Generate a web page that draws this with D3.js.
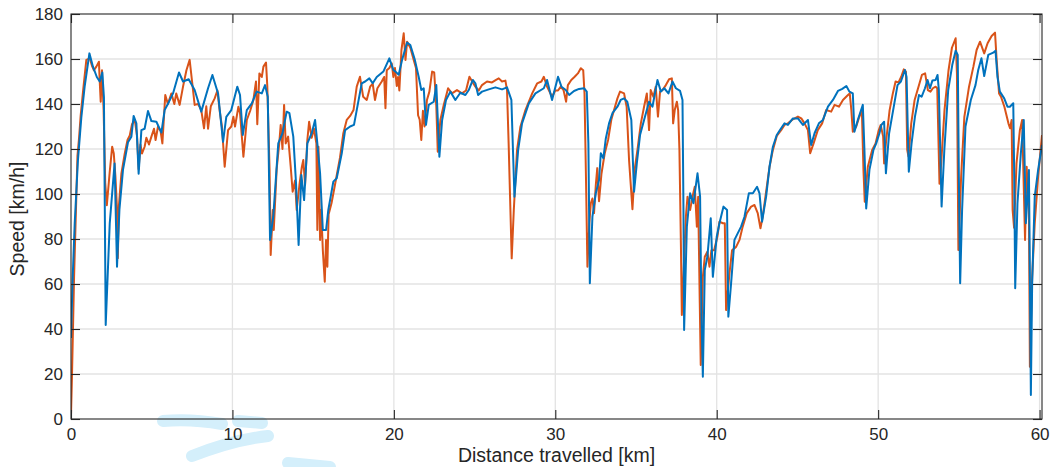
<!DOCTYPE html>
<html>
<head>
<meta charset="utf-8">
<script src="https://cdn.jsdelivr.net/npm/d3@7"></script>
<style>
  body { margin: 0; background: #ffffff; }
  svg { display: block; }
  text { font-family: "Liberation Sans", Arial, Helvetica, sans-serif; fill: #262626; }
</style>
</head>
<body>
<svg id="chart" width="1053" height="467"></svg>
<script>
// Axis ticks
const xTicks = [0, 10, 20, 30, 40, 50, 60];
const yTicks = [0, 20, 40, 60, 80, 100, 120, 140, 160, 180];

// Orange trace: distance [km] and speed [km/h]
const orangeKm = [0, 0.06, 0.19, 0.33, 0.4, 0.5, 0.6, 0.75, 0.95, 1.16, 1.3, 1.42, 1.57, 1.73, 1.78, 1.84, 1.92, 2.02, 2.12, 2.22, 2.4, 2.55, 2.65, 2.75, 2.84, 2.9, 2.97, 3.12, 3.33, 3.5, 3.64, 3.78, 3.95, 4.09, 4.19, 4.3, 4.4, 4.56, 4.67, 4.83, 4.98, 5.14, 5.24, 5.39, 5.55, 5.66, 5.84, 6.0, 6.22, 6.4, 6.52, 6.73, 6.94, 7.15, 7.35, 7.5, 7.66, 7.87, 8.07, 8.24, 8.38, 8.49, 8.66, 8.9, 9.07, 9.21, 9.35, 9.52, 9.73, 9.93, 10.06, 10.16, 10.37, 10.47, 10.68, 10.89, 11.1, 11.3, 11.46, 11.54, 11.67, 11.82, 11.92, 12.08, 12.16, 12.3, 12.37, 12.5, 12.56, 12.74, 12.9, 12.99, 13.1, 13.2, 13.3, 13.45, 13.61, 13.73, 13.88, 13.98, 14.15, 14.3, 14.39, 14.5, 14.64, 14.75, 14.91, 15.05, 15.2, 15.26, 15.33, 15.43, 15.5, 15.6, 15.72, 15.8, 15.88, 15.96, 16.14, 16.35, 16.66, 16.87, 17.08, 17.29, 17.5, 17.7, 17.9, 18.1, 18.32, 18.53, 18.69, 18.83, 18.98, 19.25, 19.4, 19.48, 19.56, 19.72, 19.87, 19.97, 20.07, 20.18, 20.26, 20.34, 20.47, 20.61, 20.72, 20.82, 21.02, 21.23, 21.37, 21.5, 21.6, 21.7, 21.8, 21.9, 22.05, 22.2, 22.37, 22.5, 22.63, 22.72, 22.88, 23.09, 23.36, 23.6, 23.91, 24.22, 24.47, 24.68, 24.85, 25.05, 25.26, 25.46, 25.77, 26.08, 26.33, 26.5, 26.7, 26.91, 27.01, 27.11, 27.22, 27.3, 27.43, 27.63, 27.84, 28.15, 28.57, 28.88, 29.14, 29.29, 29.49, 29.8, 30.0, 30.17, 30.34, 30.51, 30.67, 30.78, 30.99, 31.2, 31.4, 31.58, 31.73, 31.81, 31.9, 31.99, 32.11, 32.2, 32.3, 32.4, 32.51, 32.6, 32.71, 32.86, 33.06, 33.27, 33.47, 33.64, 33.85, 34.01, 34.26, 34.42, 34.57, 34.67, 34.78, 34.92, 35.09, 35.3, 35.5, 35.67, 35.81, 35.91, 36.08, 36.22, 36.36, 36.49, 36.64, 36.85, 37.05, 37.22, 37.3, 37.4, 37.53, 37.61, 37.69, 37.78, 37.84, 37.98, 38.09, 38.19, 38.35, 38.5, 38.64, 38.77, 38.85, 38.95, 39.01, 39.14, 39.26, 39.42, 39.55, 39.67, 39.84, 40.04, 40.17, 40.38, 40.5, 40.58, 40.79, 40.95, 41.2, 41.41, 41.61, 41.86, 42.13, 42.34, 42.54, 42.71, 42.85, 43.06, 43.27, 43.48, 43.72, 43.99, 44.2, 44.41, 44.72, 45.03, 45.24, 45.44, 45.65, 45.79, 46.0, 46.26, 46.53, 46.78, 47.09, 47.3, 47.57, 47.82, 48.13, 48.24, 48.34, 48.43, 48.64, 48.8, 48.99, 49.09, 49.17, 49.36, 49.63, 49.84, 50.04, 50.16, 50.31, 50.37, 50.5, 50.71, 50.91, 51.08, 51.26, 51.43, 51.59, 51.72, 51.8, 51.88, 52.05, 52.26, 52.5, 52.71, 52.91, 53.08, 53.24, 53.39, 53.56, 53.66, 53.8, 53.9, 54.11, 54.36, 54.57, 54.8, 54.88, 54.97, 55.14, 55.34, 55.63, 55.9, 56.1, 56.31, 56.57, 56.78, 57.03, 57.24, 57.34, 57.49, 57.61, 57.82, 58.07, 58.17, 58.27, 58.33, 58.42, 58.57, 58.78, 58.92, 59.1, 59.2, 59.34, 59.4, 59.54, 59.7, 59.91, 60.15];
const orangeSpeed = [1.8, 18.8, 63, 98.8, 117, 125, 135, 146, 159.6, 160.3, 157, 155, 156.6, 158.8, 150, 141, 155, 137.3, 105, 95, 110, 121, 118, 108, 95, 71.5, 95, 109, 118, 124, 126, 131, 133, 126, 111, 122, 118, 121, 125, 122, 125.5, 129, 124, 130, 128, 122.5, 144, 140, 144.7, 140, 144.7, 139.6, 147.7, 155, 159.6, 150, 139.6, 140, 137.3, 129.2, 139, 129, 139, 142.5, 146, 137, 130, 112.1, 128.4, 130, 134.3, 130, 138.8, 136, 116.6, 132.9, 137, 141.8, 150, 131, 153.6, 152, 156.6, 158.4, 148, 111, 72.9, 92.9, 84, 111, 122.5, 130.7, 120, 139.6, 122.5, 125.5, 112.1, 101, 106, 92.9, 104, 112, 115.1, 104, 124, 132.1, 125, 129, 122.5, 84, 121, 79.6, 93, 75, 61, 79.6, 67.7, 91, 96, 104, 116, 127, 132.9, 134.7, 137.3, 147.7, 152.1, 143.2, 141.8, 147.7, 149, 141.8, 147, 150, 152, 138.1, 155, 156, 158, 152, 156, 148, 152, 146, 164, 171.4, 159.6, 167.7, 165, 159.6, 156, 135, 133, 124, 137, 130, 141.8, 145.5, 154.4, 154, 138.8, 118.8, 132.9, 139.6, 147, 144.7, 146.2, 144.7, 146, 152.1, 150, 147.7, 146, 148.4, 150, 149.6, 150.7, 151.4, 150, 150.4, 146.2, 122.5, 92.9, 71.4, 92.9, 119.6, 129.9, 137.3, 144.7, 149.2, 150, 152.1, 147.7, 143.2, 146, 146, 147.7, 146.2, 141, 148.4, 150.7, 152.1, 153.6, 155.9, 155, 144.7, 107.7, 67.7, 87, 95.9, 98, 91.5, 104, 111.5, 96.8, 109, 118, 124, 133, 137.3, 142.5, 145.5, 144.7, 138.8, 115, 104.6, 93.2, 111, 119.6, 131.4, 138.8, 144.7, 128.4, 146.2, 143.2, 147.7, 134.4, 145.5, 146.2, 148.4, 151, 151.4, 131.4, 137.3, 141, 137.3, 119.6, 78, 46.2, 71, 89.9, 98.8, 92.9, 98.8, 103.2, 85.5, 98.8, 51.4, 24, 63.2, 72.1, 74.3, 67.7, 75, 75, 81, 87.7, 87, 87, 48.4, 64.7, 75, 76.5, 79.6, 85.5, 91.5, 94.4, 95.1, 91.5, 84.8, 90, 101, 112, 119.6, 125.8, 128.4, 130.7, 131.4, 133.2, 134.4, 133.6, 131.4, 128.4, 118.1, 122.5, 128.4, 131.4, 137.3, 136.6, 139.6, 138.8, 141.8, 144, 144.7, 137.3, 127.7, 129.9, 133.6, 137.3, 110.7, 96.6, 112.1, 119.6, 122.5, 128.4, 130.7, 125.5, 113.6, 124, 137.3, 144.7, 150, 149.6, 152.1, 155.4, 154.4, 119.6, 116.6, 131.4, 141.8, 147.7, 152.9, 153.6, 146.2, 145.5, 147, 147.7, 147, 104.6, 113, 137.3, 155, 165, 169.2, 153.6, 75.1, 107.7, 134.3, 147.7, 156.6, 164, 167.7, 162.5, 167, 170.2, 171.7, 159.6, 144.7, 143.2, 138.8, 131.4, 129.2, 132.9, 92.9, 85, 113.6, 128.4, 132.9, 79.6, 112.1, 93, 23.2, 63, 87, 107.7, 126.2];

// Blue trace: distance [km] and speed [km/h]
const blueKm = [0, 0.1, 0.23, 0.43, 0.64, 0.85, 1.14, 1.36, 1.6, 1.78, 1.94, 2.04, 2.15, 2.4, 2.7, 2.85, 3.0, 3.22, 3.53, 3.74, 3.88, 4.05, 4.19, 4.36, 4.56, 4.77, 4.98, 5.29, 5.6, 5.8, 6.0, 6.32, 6.69, 6.94, 7.29, 7.66, 8.07, 8.49, 8.76, 9.11, 9.42, 9.62, 9.93, 10.3, 10.47, 10.64, 10.89, 11.2, 11.5, 11.82, 12.02, 12.19, 12.33, 12.53, 12.84, 13.1, 13.36, 13.53, 13.77, 13.94, 14.1, 14.27, 14.44, 14.64, 14.91, 15.12, 15.26, 15.43, 15.6, 15.8, 15.94, 16.25, 16.46, 16.77, 16.98, 17.29, 17.53, 17.7, 18.01, 18.22, 18.48, 18.69, 18.94, 19.35, 19.72, 19.97, 20.1, 20.3, 20.51, 20.82, 21.02, 21.3, 21.54, 21.7, 21.85, 21.99, 22.16, 22.47, 22.63, 22.82, 22.99, 23.23, 23.5, 23.81, 24.12, 24.43, 24.64, 24.89, 25.05, 25.22, 25.46, 25.88, 26.29, 26.7, 27.01, 27.28, 27.47, 27.7, 27.94, 28.36, 28.77, 29.29, 29.49, 29.8, 30.17, 30.38, 30.65, 30.86, 31.16, 31.47, 31.78, 31.95, 32.05, 32.14, 32.3, 32.51, 32.71, 32.82, 32.98, 33.13, 33.33, 33.54, 33.85, 34.05, 34.26, 34.46, 34.71, 34.88, 35.05, 35.25, 35.5, 35.81, 36.02, 36.33, 36.54, 36.75, 37.01, 37.26, 37.47, 37.73, 37.88, 37.94, 37.98, 38.15, 38.35, 38.56, 38.81, 38.97, 39.05, 39.14, 39.26, 39.42, 39.63, 39.76, 40.0, 40.17, 40.42, 40.64, 40.72, 40.89, 41.1, 41.3, 41.51, 41.72, 41.99, 42.24, 42.5, 42.65, 42.81, 43.06, 43.27, 43.48, 43.72, 43.99, 44.2, 44.41, 44.72, 45.03, 45.34, 45.65, 45.85, 46.06, 46.33, 46.58, 46.89, 47.2, 47.51, 47.78, 48.03, 48.22, 48.43, 48.53, 48.74, 49.05, 49.15, 49.26, 49.46, 49.71, 49.88, 50.08, 50.2, 50.37, 50.48, 50.68, 50.93, 51.2, 51.41, 51.66, 51.76, 51.9, 52.07, 52.28, 52.53, 52.69, 52.9, 53.06, 53.21, 53.36, 53.56, 53.68, 53.76, 53.93, 54.1, 54.34, 54.59, 54.8, 54.93, 55.0, 55.08, 55.2, 55.41, 55.74, 56.03, 56.2, 56.4, 56.57, 56.82, 57.13, 57.27, 57.39, 57.54, 57.81, 58.01, 58.16, 58.37, 58.43, 58.49, 58.63, 58.84, 59.02, 59.15, 59.25, 59.34, 59.4, 59.46, 59.54, 59.7, 59.91, 60.15];
const blueSpeed = [36, 62, 87, 115, 134, 148, 162.5, 156.6, 152, 150, 154, 143, 41.8, 87, 113.6, 67.7, 93, 110.7, 123, 125.5, 134.7, 131.4, 109, 128.4, 129, 136.9, 132.4, 132.1, 127.3, 137.3, 140, 144.7, 154, 150, 151, 146.2, 136.6, 147, 152.9, 144.7, 123.2, 134.3, 137.3, 147.7, 144, 126.2, 137.3, 140.3, 145.5, 144.7, 148.4, 143.2, 79.6, 89.9, 122.5, 127, 136.6, 135.9, 125.5, 104.7, 77.3, 108.4, 97.3, 122.5, 127, 132.9, 122.5, 109.2, 84, 84, 92.9, 105.5, 107, 118, 128.4, 130, 130.7, 137.3, 149.2, 150, 151.4, 149.2, 152, 154.4, 160.3, 155.1, 154.4, 153, 159.6, 167.3, 166.2, 159.6, 152, 146.2, 147, 130.7, 139.6, 141, 148.4, 116.6, 132.9, 141.8, 145.5, 141.8, 145, 144, 146.2, 150.7, 149.2, 144, 145.5, 146.5, 147.4, 146.5, 147.4, 141.8, 98.8, 119.6, 131.4, 140.3, 144.7, 147, 150.7, 141.8, 152.1, 147.7, 146.2, 144, 145.8, 146.7, 147, 145.5, 122.5, 60.3, 89.9, 100.3, 106.2, 118.1, 115.9, 124.7, 131.4, 135.9, 138.8, 141.8, 142.5, 141, 132.9, 101, 113.6, 126.2, 132.9, 141, 138.8, 150.7, 145.5, 147, 144.7, 150, 147, 145.8, 141.8, 92.9, 39.6, 85.5, 100.3, 95.9, 109.2, 98.8, 48.4, 18.8, 66.2, 72.1, 89.2, 63.2, 81, 87, 94.4, 92.9, 45.5, 60.3, 79.6, 82.5, 85.5, 89.9, 100.3, 100.3, 103.2, 100.3, 87.7, 98.8, 112.1, 121, 126.2, 129.2, 131.4, 130.7, 133.6, 133.6, 130.7, 132.9, 121.8, 127, 131.4, 132.9, 138.8, 141.8, 145.8, 146.7, 148, 145.5, 144.7, 127.7, 132.9, 139.6, 119.6, 93.6, 110.7, 119.6, 122.5, 127, 130.7, 132.1, 109.2, 127, 137.3, 148.4, 150, 155.1, 152, 109.9, 122.5, 134.4, 144, 143.2, 147, 150.7, 147, 150.4, 150.7, 152.9, 146.2, 94.4, 119.6, 146.2, 157.3, 163.7, 161.8, 107.7, 60.3, 92.9, 130, 141.8, 148.4, 155.1, 160.3, 152.4, 161.8, 162.8, 163.7, 152.1, 145.5, 142.5, 138.8, 138.8, 140.3, 107.7, 58.1, 95.9, 118.1, 132.9, 87, 98.8, 110.7, 63.2, 10.7, 60.3, 98.8, 110.7, 121.8];

const xLabel = "Distance travelled [km]";
const yLabel = "Speed [km/h]";

const plot = { left: 71, top: 14, right: 1042, bottom: 419 };
const axisColor = "#262626";
const tickLen = 9;

const svg = d3.select("#chart");

const x = d3.scaleLinear().domain([0, 60.15]).range([plot.left, plot.right]);
const y = d3.scaleLinear().domain([0, 180]).range([plot.bottom, plot.top]);

// Faint background stroke below the axes
svg.append("path")
  .attr("d", "M163,421 C185,419 205,421 222,424 M192,456 C215,447 240,439 268,436 M288,463 L330,467 M238,421 L262,423")
  .attr("fill", "none")
  .attr("stroke", "#d4effb")
  .attr("stroke-width", 12)
  .attr("stroke-linecap", "round");

// Grid
const grid = svg.append("g").attr("class", "grid");
grid.selectAll("line.gx").data(xTicks.filter(d => d > 0)).join("line")
  .attr("x1", d => x(d)).attr("x2", d => x(d))
  .attr("y1", plot.top).attr("y2", plot.bottom)
  .attr("stroke", "#e3e3e3").attr("stroke-width", 1.3);
grid.selectAll("line.gy").data(yTicks.filter(d => d > 0 && d < 180)).join("line")
  .attr("x1", plot.left).attr("x2", plot.right)
  .attr("y1", d => y(d)).attr("y2", d => y(d))
  .attr("stroke", "#e3e3e3").attr("stroke-width", 1.3);

// Traces
svg.append("clipPath").attr("id", "plotClip")
  .append("rect").attr("x", plot.left).attr("y", plot.top)
  .attr("width", plot.right - plot.left).attr("height", plot.bottom - plot.top);

const line = d3.line().x(d => x(d[0])).y(d => y(d[1]));
const orangeData = d3.zip(orangeKm, orangeSpeed);
const blueData = d3.zip(blueKm, blueSpeed);

const traces = svg.append("g").attr("clip-path", "url(#plotClip)");
traces.append("path").datum(orangeData)
  .attr("d", line).attr("fill", "none")
  .attr("stroke", "#D95319").attr("stroke-width", 2).attr("stroke-linejoin", "round");
traces.append("path").datum(blueData)
  .attr("d", line).attr("fill", "none")
  .attr("stroke", "#0072BD").attr("stroke-width", 2).attr("stroke-linejoin", "round");

// Axes (ticks point inward on all four sides)
function styleAxis(g) {
  g.select(".domain").remove();
  g.selectAll(".tick line").attr("stroke", axisColor).attr("stroke-width", 1.1);
  g.selectAll(".tick text").attr("fill", axisColor).style("font-size", "17px")
    .style("font-family", '"Liberation Sans", Arial, Helvetica, sans-serif');
}

svg.append("g").attr("transform", `translate(0,${plot.bottom})`)
  .call(d3.axisBottom(x).tickValues(xTicks).tickFormat(d3.format("d"))
    .tickSizeInner(-tickLen).tickSizeOuter(0).tickPadding(9))
  .call(styleAxis);
svg.append("g").attr("transform", `translate(0,${plot.top})`)
  .call(d3.axisTop(x).tickValues(xTicks).tickFormat("")
    .tickSizeInner(-tickLen).tickSizeOuter(0))
  .call(styleAxis);
svg.append("g").attr("transform", `translate(${plot.left},0)`)
  .call(d3.axisLeft(y).tickValues(yTicks).tickFormat(d3.format("d"))
    .tickSizeInner(-tickLen).tickSizeOuter(0).tickPadding(8))
  .call(styleAxis);
svg.append("g").attr("transform", `translate(${plot.right},0)`)
  .call(d3.axisRight(y).tickValues(yTicks).tickFormat("")
    .tickSizeInner(-tickLen).tickSizeOuter(0))
  .call(styleAxis);

// Box
svg.append("rect")
  .attr("x", plot.left).attr("y", plot.top)
  .attr("width", plot.right - plot.left).attr("height", plot.bottom - plot.top)
  .attr("fill", "none").attr("stroke", axisColor).attr("stroke-width", 1.1);

// Axis labels
svg.append("text")
  .attr("x", (plot.left + plot.right) / 2).attr("y", 462)
  .attr("text-anchor", "middle").style("font-size", "19.5px")
  .text(xLabel);
svg.append("text")
  .attr("transform", `translate(24,219) rotate(-90)`)
  .attr("text-anchor", "middle").style("font-size", "19.5px")
  .text(yLabel);
</script>
</body>
</html>
